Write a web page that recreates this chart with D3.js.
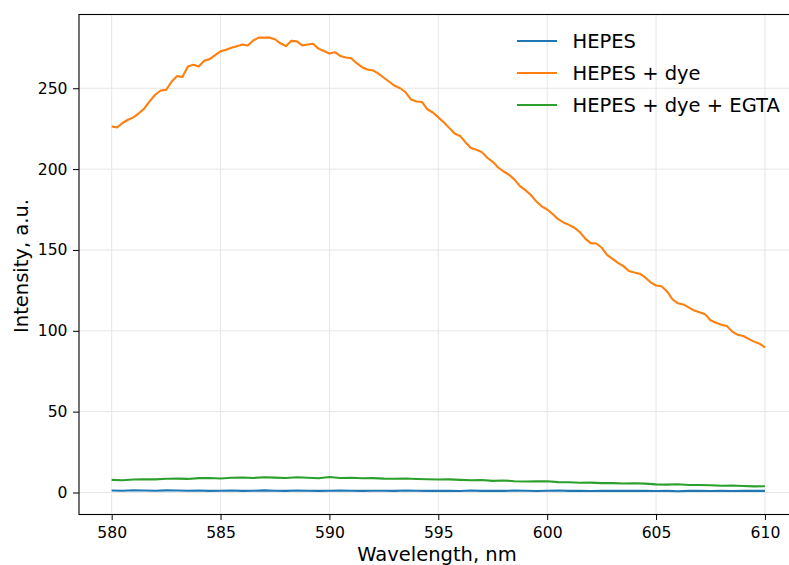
<!DOCTYPE html>
<html lang="en">
<head>
  <meta charset="utf-8">
  <title>Intensity spectra</title>
  <script src="https://d3js.org/d3.v7.min.js"></script>
  <style>
    body { margin: 0; background: #fff; overflow: hidden; }
    text { font-family: "DejaVu Sans", sans-serif; fill: #000; }
    .grid line { stroke: #e6e6e6; stroke-width: 1; }
    .axis path, .axis line { stroke: #000; }
  </style>
</head>
<body>
<script>
// wavelength (nm) for the dye curve, 0.25 nm steps
var wlFine = d3.range(0, 121).map(function(i) { return 580 + i * 0.25; });
// wavelength for the flat curves, 0.5 nm steps
var wlCoarse = d3.range(0, 61).map(function(i) { return 580 + i * 0.5; });

var hepes = [1.2,1.1,1.4,1.2,1.1,1.3,1.2,1.1,1.2,1.0,1.1,1.2,1.0,1.1,1.3,1.1,1.0,1.2,1.1,1.0,
  1.1,1.2,1.1,1.0,1.1,1.1,1.0,1.2,1.1,1.0,1.1,1.0,0.9,1.2,1.0,1.1,1.0,1.2,1.1,0.9,
  1.1,1.2,1.0,1.1,0.9,1.0,1.1,1.0,1.1,1.0,0.9,1.0,0.8,1.0,1.1,0.9,1.0,0.9,1.0,1.0,1.0];

var hepesDye = [226.3,225.8,228.5,230.5,232,234.5,237.5,242,246,248.6,249,254,257.5,257,263.5,264.5,
  263.5,267,268,270.5,272.8,273.8,275,276,277,276.4,279.5,281.3,281.3,281.3,280.3,277.8,
  276,279.3,279,276.5,277,277.5,274.5,273,271.5,272.3,270,269,268.5,265.5,263,261.6,
  261,259,256.5,254,251.5,250,247.5,243,241.8,241.5,237,235,232,229,225.5,222,
  220.5,216.5,213,212,210.5,207,204.5,201,198.5,196.5,193.5,189.5,187,184,180,177,
  175,172.2,169,167,165.5,163.7,161,157,154.2,154,151.5,147,144.5,142,140,137,
  136,135.3,133,130,128,127.5,124.5,119.5,117,116.3,114.5,112.5,111.5,110.3,106.5,105,
  103.8,103,99.5,97.5,96.8,95,93.3,92,89.8];

var hepesDyeEgta = [7.8,7.6,8.0,8.2,8.1,8.5,8.6,8.4,8.9,9.0,8.7,9.1,9.3,9.0,9.4,9.2,9.0,9.4,9.1,8.8,
  9.6,9.0,9.1,8.8,8.9,8.6,8.5,8.7,8.4,8.2,8.0,8.1,7.8,7.6,7.7,7.2,7.4,7.0,6.8,6.9,
  7.0,6.4,6.3,6.0,6.1,5.8,5.8,5.6,5.7,5.5,5.0,4.9,5.1,4.6,4.6,4.5,4.2,4.3,4.0,3.8,3.9];

var seriesNames = ["HEPES", "HEPES + dye", "HEPES + dye + EGTA"];
var seriesColors = ["#1f77b4", "#ff7f0e", "#2ca02c"];
var xTicks = [580, 585, 590, 595, 600, 605, 610];
var yTicks = [0, 50, 100, 150, 200, 250];

var width = 789, height = 565;
// plot area runs past the right edge of the picture (right spine is cut off)
var margin = { top: 14.5, left: 79 };
var innerW = 718.6;
var innerH = 500;

var series = [
  { name: seriesNames[0], x: wlCoarse, y: hepes },
  { name: seriesNames[1], x: wlFine, y: hepesDye },
  { name: seriesNames[2], x: wlCoarse, y: hepesDyeEgta }
];

var x = d3.scaleLinear().domain([578.5, 611.5]).range([0, innerW]);
var y = d3.scaleLinear().domain([-13.6, 295.6]).range([innerH, 0]);

var svg = d3.select("body").append("svg")
  .attr("width", width)
  .attr("height", height);

var g = svg.append("g")
  .attr("transform", "translate(" + margin.left + "," + margin.top + ")");

// grid
g.append("g").attr("class", "grid")
  .selectAll("line").data(xTicks).enter().append("line")
  .attr("x1", function(d) { return x(d); }).attr("x2", function(d) { return x(d); })
  .attr("y1", 0).attr("y2", innerH);
g.append("g").attr("class", "grid")
  .selectAll("line").data(yTicks).enter().append("line")
  .attr("y1", function(d) { return y(d); }).attr("y2", function(d) { return y(d); })
  .attr("x1", 0).attr("x2", innerW);

// lines
var line = d3.line()
  .x(function(d) { return x(d[0]); })
  .y(function(d) { return y(d[1]); });

series.forEach(function(s, i) {
  g.append("path")
    .datum(d3.zip(s.x, s.y))
    .attr("fill", "none")
    .attr("stroke", seriesColors[i])
    .attr("stroke-width", 2.1)
    .attr("stroke-linejoin", "round")
    .attr("d", line);
});

// frame
g.append("rect")
  .attr("width", innerW).attr("height", innerH)
  .attr("fill", "none").attr("stroke", "#000").attr("stroke-width", 1.1);

// axes
var xAxis = g.append("g").attr("class", "axis")
  .attr("transform", "translate(0," + innerH + ")")
  .call(d3.axisBottom(x).tickValues(xTicks).tickSize(5.5).tickPadding(6.5).tickFormat(d3.format("d")));
var yAxis = g.append("g").attr("class", "axis")
  .call(d3.axisLeft(y).tickValues(yTicks).tickSize(6).tickPadding(5.5).tickFormat(d3.format("d")));
xAxis.select(".domain").remove();
yAxis.select(".domain").remove();
svg.selectAll(".axis text").style("font-size", "15.6px").style("font-family", "DejaVu Sans");

// axis labels
svg.append("text")
  .attr("x", margin.left + 358).attr("y", 561)
  .attr("text-anchor", "middle")
  .style("font-size", "19.5px")
  .text("Wavelength, nm");
svg.append("text")
  .attr("transform", "translate(27.5," + 266 + ") rotate(-90)")
  .attr("text-anchor", "middle")
  .style("font-size", "19.5px")
  .text("Intensity, a.u.");

// legend
var legend = svg.append("g").attr("transform", "translate(517,41)");
seriesNames.forEach(function(name, i) {
  var row = legend.append("g").attr("transform", "translate(0," + (i * 32) + ")");
  row.append("line")
    .attr("x1", 0).attr("x2", 40).attr("y1", 0).attr("y2", 0)
    .attr("stroke", seriesColors[i]).attr("stroke-width", 2.1);
  row.append("text")
    .attr("x", 55.5).attr("y", 7)
    .style("font-size", "19.5px")
    .text(name);
});
</script>
</body>
</html>
